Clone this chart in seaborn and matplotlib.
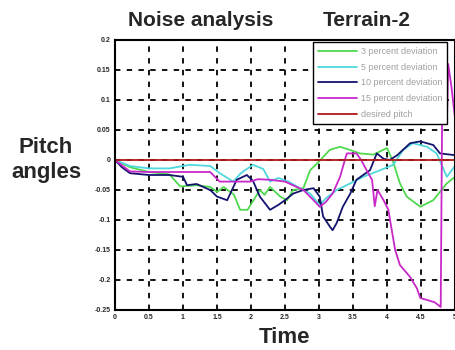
import numpy as np
import pandas as pd
import seaborn as sns
import matplotlib
matplotlib.use("Agg")
import matplotlib.pyplot as plt

# ---- data ----
t_3 = [0, 0.22, 0.5, 0.8, 0.96, 1.2, 1.4, 1.5, 1.6, 1.75, 1.84, 1.95, 2.13, 2.2, 2.28, 2.43, 2.53,
       2.62, 2.77, 2.87, 2.97, 3.16, 3.31, 3.45, 3.6, 3.8, 4.0, 4.09, 4.19, 4.29, 4.49, 4.68, 4.88, 5.0]
v_3 = [0, -0.012, -0.02, -0.024, -0.044, -0.042, -0.045, -0.053, -0.045, -0.058, -0.083, -0.083,
       -0.05, -0.058, -0.045, -0.061, -0.067, -0.05, -0.047, -0.017, -0.006, 0.017, 0.022, 0.017,
       0.011, 0.009, 0.02, -0.003, -0.039, -0.061, -0.078, -0.067, -0.039, -0.028]

t_5 = [0, 0.22, 0.5, 0.8, 1.1, 1.4, 1.54, 1.74, 1.85, 2.03, 2.18, 2.28, 2.4, 2.55, 2.72, 2.87,
       3.01, 3.1, 3.26, 3.46, 3.65, 3.9, 4.09, 4.24, 4.38, 4.59, 4.73, 4.88, 5.0]
v_5 = [0, -0.01, -0.014, -0.014, -0.008, -0.01, -0.022, -0.036, -0.022, -0.008, -0.015, -0.036,
       -0.03, -0.036, -0.047, -0.056, -0.075, -0.064, -0.05, -0.039, -0.028, -0.017, -0.008, 0.017,
       0.028, 0.022, 0.011, -0.028, -0.01]

t_10 = [0, 0.1, 0.22, 0.5, 0.8, 1.0, 1.06, 1.2, 1.4, 1.5, 1.65, 1.79, 1.94, 2.03, 2.13, 2.28, 2.4,
        2.5, 2.62, 2.77, 2.92, 3.01, 3.06, 3.16, 3.2, 3.26, 3.35, 3.46, 3.55, 3.75, 3.85, 3.95, 4.04,
        4.15, 4.34, 4.49, 4.68, 4.78, 5.0]
v_10 = [0, -0.012, -0.022, -0.025, -0.025, -0.028, -0.042, -0.04, -0.05, -0.061, -0.067, -0.033,
        -0.025, -0.035, -0.061, -0.083, -0.075, -0.067, -0.056, -0.05, -0.047, -0.061, -0.094,
        -0.111, -0.117, -0.105, -0.078, -0.056, -0.033, -0.017, 0.011, 0.002, 0.0, 0.008, 0.028,
        0.031, 0.025, 0.011, 0.008]

t_15 = [0, 0.22, 0.5, 1.0, 1.4, 1.54, 1.99, 2.1, 2.28, 2.5, 2.77, 2.92, 3.01, 3.1, 3.2, 3.31, 3.38,
        3.41, 3.55, 3.62, 3.7, 3.78, 3.82, 3.86, 3.95, 4.02, 4.07, 4.12, 4.19, 4.34, 4.44, 4.49,
        4.58, 4.7, 4.79, 4.81, 4.88, 4.9, 4.95, 5.0]
v_15 = [0, -0.019, -0.02, -0.02, -0.02, -0.036, -0.036, -0.032, -0.033, -0.036, -0.05, -0.067,
        -0.078, -0.07, -0.056, -0.028, 0.0, 0.011, 0.011, 0.0, -0.017, -0.033, -0.077, -0.05,
        -0.067, -0.083, -0.117, -0.15, -0.175, -0.195, -0.214, -0.23, -0.233, -0.237, -0.245,
        0.065, 0.06, 0.16, 0.12, 0.07]

t_des = [0, 5]
v_des = [0, 0]

labels = ["3 percent deviation", "5 percent deviation", "10 percent deviation",
          "15 percent deviation", "desired pitch"]
colors = ["#4fd94f", "#4fd8dc", "#14146e", "#c828c8", "#b01818"]

x_ticks = [0, 0.5, 1, 1.5, 2, 2.5, 3, 3.5, 4, 4.5, 5]
x_ticklabels = ["0", "0.5", "1", "1.5", "2", "2.5", "3", "3.5", "4", "4.5", "5"]
y_ticks = [0.2, 0.15, 0.1, 0.05, 0, -0.05, -0.1, -0.15, -0.2, -0.25]
y_ticklabels = ["0.2", "0.15", "0.1", "0.05", "0", "-0.05", "-0.1", "-0.15", "-0.2", "-0.25"]

frames = []
for lab, tt, vv in zip(labels, [t_3, t_5, t_10, t_15, t_des], [v_3, v_5, v_10, v_15, v_des]):
    frames.append(pd.DataFrame({"t": tt, "v": vv, "series": lab}))
df = pd.concat(frames, ignore_index=True)

sns.set_style("white")
plt.rcParams['font.family'] = ['Liberation Sans', 'DejaVu Sans']

fig = plt.figure(figsize=(4.56, 3.5), dpi=100)
ax = fig.add_axes([115 / 456, 1 - 310 / 350, 340 / 456, 270 / 350])

sns.lineplot(data=df, x="t", y="v", hue="series", hue_order=labels,
             palette=dict(zip(labels, colors)), estimator=None, sort=False,
             linewidth=1.3, ax=ax)

ax.set_xlim(0, 5)
ax.set_ylim(-0.25, 0.2)
ax.set_xticks(x_ticks)
ax.set_xticklabels(x_ticklabels, fontsize=5, fontweight="bold")
ax.set_yticks(y_ticks)
ax.set_yticklabels(y_ticklabels, fontsize=5, fontweight="bold")
ax.tick_params(axis="both", direction="in", length=0, pad=3)
ax.grid(True, color="black", linestyle=(0, (3, 3.5)), linewidth=1.3)
for s in ax.spines.values():
    s.set_color("black")
    s.set_linewidth(1.5)

ax.set_xlabel("Time", fontsize=16, fontweight="bold", labelpad=4)
ax.set_ylabel("")
fig.text(46 / 456, 1 - 160 / 350, "Pitch\nangles", fontsize=16, fontweight="bold",
         ha="center", va="center", linespacing=1.2)
fig.text(201 / 456, 1 - 20 / 350, "Noise analysis", fontsize=15, fontweight="bold",
         ha="center", va="center")
fig.text(367 / 456, 1 - 20 / 350, "Terrain-2", fontsize=15, fontweight="bold",
         ha="center", va="center")

leg = ax.legend(loc="upper right", bbox_to_anchor=((452 - 115) / 340, (310 - 37) / 270),
                fontsize=6.5, handlelength=4.3, labelspacing=0.75, fancybox=False,
                framealpha=1, edgecolor="black", borderpad=0.6, handletextpad=0.4)
leg.get_frame().set_linewidth(1.0)
for txt in leg.get_texts():
    txt.set_color("#a0a0a0")

fig.savefig("out.png", dpi=100)
